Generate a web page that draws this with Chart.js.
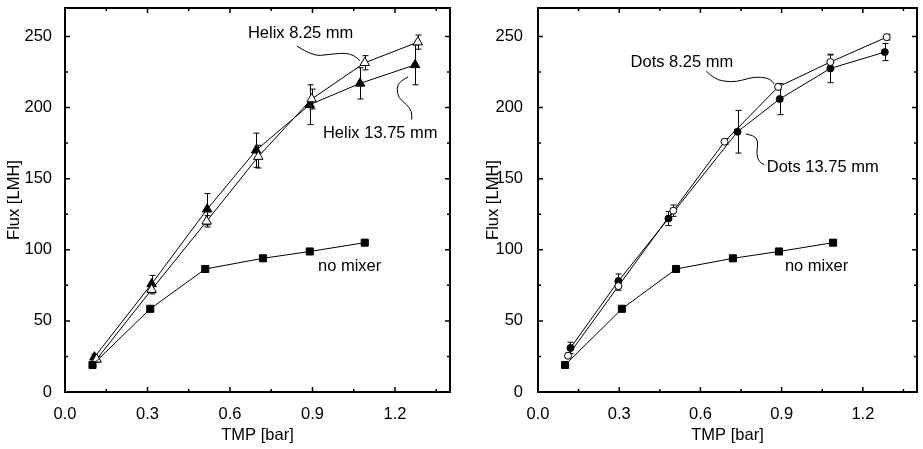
<!DOCTYPE html>
<html>
<head>
<meta charset="utf-8">
<script src="https://cdn.jsdelivr.net/npm/chart.js@4.4.1/dist/chart.umd.min.js"></script>
<style>
  body { margin: 0; background: #fff; }
  #wrap { position: relative; width: 923px; height: 449px; }
  #leftBox { position: absolute; left: 0; top: 0; }
  #rightBox { position: absolute; left: 461px; top: 0; }
</style>
</head>
<body>
<div id="wrap">
  <div id="leftBox"><canvas id="helixChart" width="461" height="449"></canvas></div>
  <div id="rightBox"><canvas id="dotsChart" width="462" height="449"></canvas></div>
</div>
<script>
// data (TMP [bar] -> Flux [LMH])
const noMixerX = [0.10, 0.31, 0.51, 0.72, 0.89, 1.09];
const noMixerY = [19, 58.5, 86.5, 94, 98.8, 105];

const helix825X = [0.115, 0.315, 0.515, 0.703, 0.897, 1.09, 1.283];
const helix825Y = [23, 72, 120, 165.5, 206, 231.5, 246];
const helix825Err = [2, 3, 4, 8, 7, 5, 5];

const helix1375X = [0.107, 0.315, 0.517, 0.695, 0.89, 1.073, 1.273];
const helix1375Y = [24.5, 76, 128.5, 170, 202, 217, 230];
const helix1375Err = [2, 6, 11, 12, 14, 11, 14];

const dots825X = [0.111, 0.297, 0.5, 0.689, 0.887, 1.08, 1.288];
const dots825Y = [25.5, 74.5, 127.5, 176, 214.5, 232, 249.5];
const dots825Err = [2, 3, 4, 2, 2, 5, 2];

const dots1375X = [0.12, 0.297, 0.482, 0.737, 0.893, 1.08, 1.281];
const dots1375Y = [31, 78, 122, 183, 206, 227.5, 239];
const dots1375Err = [4, 5, 5, 15, 11, 10, 6];

const xTicks = [0.0, 0.3, 0.6, 0.9, 1.2];
const yTicks = [0, 50, 100, 150, 200, 250];

const FONT = '"Liberation Sans", Arial, Helvetica, sans-serif';
const FSIZE = 16.5;
Chart.defaults.color = '#000';
Chart.defaults.font.family = FONT;
Chart.defaults.font.size = FSIZE;

function pts(xs, ys) {
    return xs.map((x, i) => ({ x: x, y: ys[i] }));
}

function series(xs, ys, errs, style, fill, radius) {
    return {
        data: pts(xs, ys),
        errors: errs,
        showLine: true,
        borderColor: '#000',
        borderWidth: 1,
        pointStyle: style,
        pointRadius: radius,
        pointBackgroundColor: fill,
        pointBorderColor: '#000',
        pointBorderWidth: 1
    };
}

// error bars, drawn under the markers
const errorBars = {
    id: 'errorBars',
    beforeDatasetsDraw(chart) {
        const ctx = chart.ctx;
        const xs = chart.scales.x, ys = chart.scales.y;
        ctx.save();
        ctx.strokeStyle = '#000';
        ctx.lineWidth = 1;
        chart.data.datasets.forEach(ds => {
            if (!ds.errors) return;
            ds.data.forEach((p, i) => {
                const e = ds.errors[i];
                const px = Math.round(xs.getPixelForValue(p.x)) + 0.5;
                const top = ys.getPixelForValue(p.y + e);
                const bot = ys.getPixelForValue(p.y - e);
                ctx.beginPath();
                ctx.moveTo(px, top); ctx.lineTo(px, bot);
                ctx.moveTo(px - 3, top); ctx.lineTo(px + 3, top);
                ctx.moveTo(px - 3, bot); ctx.lineTo(px + 3, bot);
                ctx.stroke();
            });
        });
        ctx.restore();
    }
};

// box frame + inward ticks on all four sides
const frame = {
    id: 'frame',
    afterDraw(chart) {
        const ctx = chart.ctx;
        const a = chart.chartArea;
        const xs = chart.scales.x, ys = chart.scales.y;
        ctx.save();
        ctx.strokeStyle = '#000';
        ctx.lineWidth = 2;
        ctx.strokeRect(a.left, a.top, a.right - a.left, a.bottom - a.top);
        ctx.lineWidth = 1.5;
        ctx.beginPath();
        for (let k = 1; k <= 9; k++) {
            const px = xs.getPixelForValue(k * 0.15);
            const len = k % 2 === 0 ? 5 : 3;
            ctx.moveTo(px, a.bottom); ctx.lineTo(px, a.bottom - len);
            ctx.moveTo(px, a.top); ctx.lineTo(px, a.top + len);
        }
        for (let k = 1; k <= 10; k++) {
            const py = ys.getPixelForValue(k * 25);
            const len = k % 2 === 0 ? 5 : 3;
            ctx.moveTo(a.left, py); ctx.lineTo(a.left + len, py);
            ctx.moveTo(a.right, py); ctx.lineTo(a.right - len, py);
        }
        ctx.stroke();
        ctx.restore();
    }
};

// labels and curly leader lines, positioned in data units
const notes = {
    id: 'notes',
    afterDatasetsDraw(chart) {
        const list = chart.options.plugins.notes.items || [];
        const ctx = chart.ctx;
        const xs = chart.scales.x, ys = chart.scales.y;
        ctx.save();
        ctx.fillStyle = '#000';
        ctx.strokeStyle = '#000';
        ctx.lineWidth = 1;
        ctx.font = FSIZE + 'px ' + FONT;
        ctx.textBaseline = 'middle';
        ctx.textAlign = 'left';
        list.forEach(n => {
            if (n.text) {
                ctx.fillText(n.text, xs.getPixelForValue(n.x), ys.getPixelForValue(n.y));
            }
            if (n.path) {
                const p = n.path.map(q => [xs.getPixelForValue(q[0]), ys.getPixelForValue(q[1])]);
                ctx.beginPath();
                ctx.moveTo(p[0][0], p[0][1]);
                for (let i = 1; i < p.length - 1; i++) {
                    const mx = (p[i][0] + p[i + 1][0]) / 2;
                    const my = (p[i][1] + p[i + 1][1]) / 2;
                    ctx.quadraticCurveTo(p[i][0], p[i][1], mx, my);
                }
                const last = p[p.length - 1];
                ctx.lineTo(last[0], last[1]);
                ctx.stroke();
            }
        });
        ctx.restore();
    }
};

function makeChart(canvasId, datasets, noteItems, cfg) {
    const ctx = document.getElementById(canvasId).getContext('2d');
    return new Chart(ctx, {
        type: 'scatter',
        data: { datasets: datasets },
        options: {
            responsive: false,
            animation: false,
            devicePixelRatio: 1,
            layout: { padding: { top: 8, right: cfg.padRight, left: cfg.padLeft, bottom: 0 } },
            plugins: {
                legend: { display: false },
                tooltip: { enabled: false },
                notes: { items: noteItems }
            },
            scales: {
                x: {
                    type: 'linear',
                    min: 0, max: 1.4,
                    afterFit: s => { s.height = 57; s.paddingLeft = 0; s.paddingRight = 0; },
                    afterBuildTicks: s => { s.ticks = xTicks.map(v => ({ value: v })); },
                    grid: { display: false },
                    border: { display: false },
                    ticks: { padding: 5, maxRotation: 0, callback: v => Number(v).toFixed(1) },
                    title: { display: true, text: 'TMP [bar]', padding: { top: 0, bottom: 4 } }
                },
                y: {
                    type: 'linear',
                    min: 0, max: 270,
                    afterFit: s => { s.width = cfg.yWidth; s.paddingTop = 0; s.paddingBottom = 0; },
                    afterBuildTicks: s => { s.ticks = yTicks.map(v => ({ value: v })); },
                    grid: { display: false },
                    border: { display: false },
                    ticks: { padding: cfg.tickPad },
                    title: { display: true, text: 'Flux [LMH]', padding: { top: 5, bottom: 0 } }
                }
            }
        },
        plugins: [errorBars, notes, frame]
    });
}

// left panel: helix mixers
makeChart('helixChart', [
    series(noMixerX, noMixerY, null, 'rect', '#000', 5),
    series(helix825X, helix825Y, helix825Err, 'triangle', '#fff', 5.5),
    series(helix1375X, helix1375Y, helix1375Err, 'triangle', '#000', 5.5)
], [
    { text: 'Helix 8.25 mm', x: 0.665, y: 252 },
    { path: [[0.843, 243.2], [0.902, 236.1], [0.956, 237.3], [1.024, 238.5], [1.055, 236.1], [1.072, 233]] },
    { text: 'Helix 13.75 mm', x: 0.938, y: 181.5 },
    { path: [[1.248, 221.6], [1.218, 218.5], [1.206, 213.9], [1.212, 206.8], [1.243, 202.1], [1.261, 197.4], [1.261, 191.5]] },
    { text: 'no mixer', x: 0.92, y: 88 }
], { padLeft: 0, padRight: 11, yWidth: 65, tickPad: 5 });

// right panel: dots mixers
makeChart('dotsChart', [
    series(noMixerX, noMixerY, null, 'rect', '#000', 5),
    series(dots825X, dots825Y, dots825Err, 'circle', '#fff', 3.5),
    series(dots1375X, dots1375Y, dots1375Err, 'circle', '#000', 3.5)
], [
    { text: 'Dots 8.25 mm', x: 0.342, y: 232 },
    { path: [[0.622, 225.6], [0.652, 219.7], [0.713, 217.8], [0.755, 219.2], [0.798, 221.6], [0.847, 220.9], [0.866, 218.5], [0.872, 216.5]] },
    { text: 'Dots 13.75 mm', x: 0.845, y: 158.2 },
    { path: [[0.768, 181.5], [0.798, 180.5], [0.814, 176.3], [0.807, 168.1], [0.814, 162.2], [0.835, 159.9]] },
    { text: 'no mixer', x: 0.912, y: 88 }
], { padLeft: 18, padRight: 2, yWidth: 59, tickPad: 7 });
</script>
</body>
</html>
